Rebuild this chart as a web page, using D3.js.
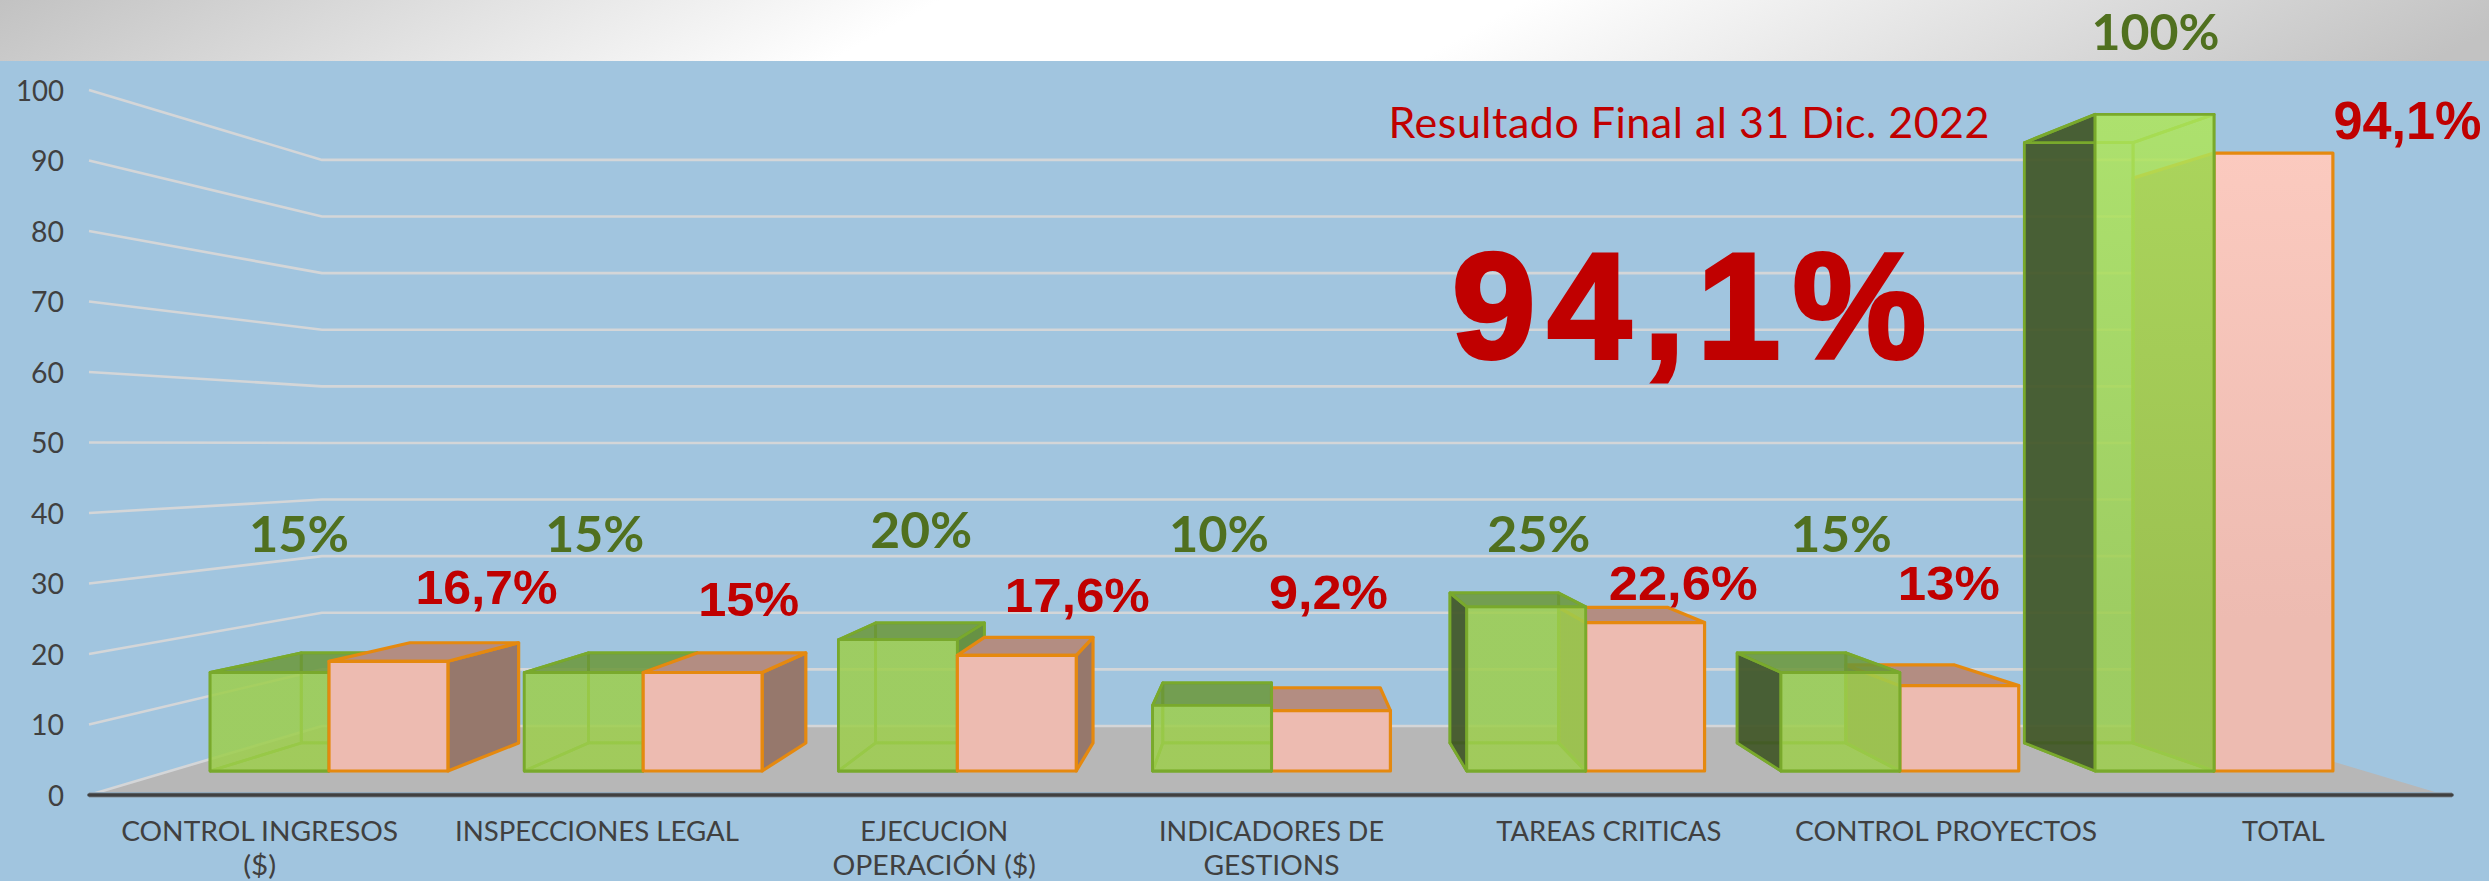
<!DOCTYPE html>
<html><head><meta charset="utf-8">
<script src="https://cdn.jsdelivr.net/npm/d3@7/dist/d3.min.js"></script>
<style>html,body{margin:0;padding:0;background:#A1C5DF}svg{display:block}</style>
</head><body><div id="chart"></div>
<script>
// ---- data ----
const categories = ["CONTROL INGRESOS ($)","INSPECCIONES LEGAL","EJECUCION OPERACIÓN ($)","INDICADORES DE GESTIONS","TAREAS CRITICAS","CONTROL PROYECTOS","TOTAL"];
const categoryLines = [["CONTROL INGRESOS","($)"],["INSPECCIONES LEGAL"],["EJECUCION","OPERACIÓN ($)"],["INDICADORES DE","GESTIONS"],["TAREAS CRITICAS"],["CONTROL PROYECTOS"],["TOTAL"]];
const seriesNames = ["Peso","Resultado"];
const pesoValues = [15,15,20,10,25,15,100];
const resultadoValues = [16.7,15,17.6,9.2,22.6,13,94.1];
const pesoLabels = ["15%","15%","20%","10%","25%","15%","100%"];
const resultadoLabels = ["16,7%","15%","17,6%","9,2%","22,6%","13%","94,1%"];
const titleText = "Resultado Final al 31 Dic. 2022";
const bigText = "94,1%";

// ---- layout (separate from the data) ----
const W = 2489, H = 881;
const vpX = 1271.5;
const pesoLabelDx = [-30,-48.5,-36,-52.5,-47,-58.5,-58.5];
const pesoLabelRise = [243,243,247,243,243,243,745];
const pesoLabelW = [100,99,102,100,103.5,101,128];
const resLabelDx = [157.5,105.5,120,57,97.5,49,193.5];
const resLabelRise = [191,179,183,186,195,195,656];
const resLabelW = [142,101,145,119,149,102,148];
const resLabelSize = [49,49,49,49,49,49,54];
const catLineW = [[277,33],[284],[148,203.5],[225,136],[225],[302],[82.5]];
const C = {green:"#9DCE4C", greenStroke:"#79A92C", greenTop:"#6B9738", greenRight:"#5F8B2F", greenDark:"#405626",
           pinkTop:"#B38D82", pinkSide:"#96786C", pinkStroke:"#E5890F", red:"#C00000", labelGreen:"#50701F", text:"#404040"};

// ---- scales: a perspective box built from d3 scales ----
const xBand = d3.scaleBand().domain(categories).range([91,2452]).paddingInner(.243).paddingOuter(.1215);
const xSeries = d3.scaleBand().domain(seriesNames).range([0,xBand.bandwidth()]);
const yFront = d3.scaleLinear().domain([0,100]).range([795,90]);
const shrink = d3.scaleLinear().domain([0,1]).range([1,.803]);
const base = d3.scaleLinear().domain([0,1]).range([795,726]);
const barFront = .348, barBack = .754;
const project = (x,v,t)=>[vpX+(x-vpX)*shrink(t), base(t)-(795-yFront(v))*shrink(t)];
const line = d3.line();
const quad = pts => line(pts)+"Z";

const svg = d3.select("#chart").append("svg").attr("width",W).attr("height",H).attr("viewBox",[0,0,W,H]);
const defs = svg.append("defs");
const band = defs.append("linearGradient").attr("id","band").attr("gradientUnits","userSpaceOnUse")
  .attr("x1",0).attr("y1",0).attr("x2",600).attr("y2",1080);
[[0,"#C2C2C2"],[.37,"#FFFFFF"],[.6,"#FFFFFF"],[1,"#C2C2C2"]].forEach(s=>band.append("stop").attr("offset",s[0]).attr("stop-color",s[1]));
const gg = defs.append("linearGradient").attr("id","gFront").attr("gradientUnits","userSpaceOnUse").attr("x1",0).attr("y1",110).attr("x2",0).attr("y2",620);
[[0,"#AFE65A"],[1,"#9DCE4C"]].forEach(s=>gg.append("stop").attr("offset",s[0]).attr("stop-color",s[1]));
const pg = defs.append("linearGradient").attr("id","pFront").attr("gradientUnits","userSpaceOnUse").attr("x1",0).attr("y1",150).attr("x2",0).attr("y2",620);
[[0,"#FBCABF"],[1,"#EDBBB1"]].forEach(s=>pg.append("stop").attr("offset",s[0]).attr("stop-color",s[1]));

svg.append("rect").attr("width",W).attr("height",H).attr("fill","#A1C5DF");
svg.append("rect").attr("width",W).attr("height",61).attr("fill","url(#band)");

// floor
const floorEnd = 2445;
svg.append("path").attr("fill","#B7B7B7")
  .attr("d",quad([project(89,0,0),project(floorEnd,0,0),project(floorEnd,0,1),project(89,0,1)]));

// gridlines (side wall + back wall)
const gridL = 89, gridR = 2452;
svg.append("g").selectAll("path").data(yFront.ticks(10)).join("path")
  .attr("d",v=>line([project(gridL,v,0),project(gridL,v,1),project(gridR,v,1)]))
  .attr("fill","none").attr("stroke","#D4D6D8").attr("stroke-width",2.6);

// front axis line
svg.append("path").attr("d",line([[89,795],[2452,795]])).attr("stroke","#93A9BA").attr("stroke-width",6).attr("fill","none");
svg.append("path").attr("d",line([[89,795],[2452,795]])).attr("stroke","#404040").attr("stroke-width",3.5).attr("stroke-linecap","round").attr("fill","none");

// y axis
const yAxis = svg.append("g").attr("transform","translate(64,0)").call(d3.axisLeft(yFront).ticks(10).tickSize(0).tickPadding(0));
yAxis.select(".domain").remove();
yAxis.selectAll("text").attr("font-family","Lato").attr("font-size",29).attr("fill",C.text).attr("dy",".36em")
  .attr("textLength",d=>d===100?48:d===0?16:33).attr("lengthAdjust","spacingAndGlyphs");

// x axis
const xAxis = svg.append("g").attr("transform","translate(0,795)").call(d3.axisBottom(xBand).tickSize(0).tickPadding(0));
xAxis.select(".domain").remove();
xAxis.selectAll("text").each(function(d,i){
  const t = d3.select(this).text(null).attr("y",46).attr("dy",0).attr("font-family","Lato").attr("font-size",27).attr("fill",C.text);
  categoryLines[i].forEach((ln,j)=>{
    t.append("tspan").attr("x",0).attr("y",46+j*34).attr("textLength",catLineW[i][j]).attr("lengthAdjust","spacingAndGlyphs").text(ln);
  });
});

// bars
const barsG = svg.append("g");
function drawGreen(g,x0,x1,v){
  const fl=[x0,0,barFront],fr=[x1,0,barFront],tl=[x0,v,barFront],tr=[x1,v,barFront];
  const bl=[x0,0,barBack],br=[x1,0,barBack],ul=[x0,v,barBack],ur=[x1,v,barBack];
  const P=a=>project(a[0],a[1],a[2]);
  const edge={stroke:C.greenStroke,"stroke-width":2.8,"stroke-linejoin":"round"};
  const face=(pts,fill,op)=>{const p=g.append("path").attr("d",quad(pts.map(P))).attr("fill",fill||"none").attr("fill-opacity",op||0);
    Object.entries(edge).forEach(([k,val])=>p.attr(k,val));return p;};
  face([bl,br,ur,ul]);
  face([fl,bl,br,fr]);
  const leftExposed = x0>vpX, rightExposed = x1<vpX;
  face([fl,bl,ul,tl], leftExposed?C.greenDark:null, leftExposed?.92:0);
  face([fr,br,ur,tr], rightExposed?C.greenRight:null, rightExposed?.88:0);
  const topVisible = P(ul)[1] < P(tl)[1];
  face([tl,ul,ur,tr], topVisible?C.greenTop:null, topVisible?.85:0);
  face([fl,fr,tr,tl],"url(#gFront)",.85);
}
function drawPink(g,x0,x1,v){
  const P=a=>project(a[0],a[1],a[2]);
  const fl=[x0,0,barFront],fr=[x1,0,barFront],tl=[x0,v,barFront],tr=[x1,v,barFront];
  const bl=[x0,0,barBack],br=[x1,0,barBack],ul=[x0,v,barBack],ur=[x1,v,barBack];
  const face=(pts,fill)=>g.append("path").attr("d",quad(pts.map(P))).attr("fill",fill).attr("stroke",C.pinkStroke).attr("stroke-width",3.2).attr("stroke-linejoin","round");
  if(x0>vpX) face([fl,bl,ul,tl],C.pinkSide);
  if(x1<vpX) face([fr,br,ur,tr],C.pinkSide);
  if(P(ul)[1] < P(tl)[1]) face([tl,ul,ur,tr],C.pinkTop);
  face([fl,fr,tr,tl],"url(#pFront)");
}
categories.forEach((c,i)=>{
  const g = barsG.append("g");
  const x = xBand(c);
  const gx0=x+xSeries("Peso"), gx1=gx0+xSeries.bandwidth();
  const px0=x+xSeries("Resultado"), px1=px0+xSeries.bandwidth();
  const center = x+xBand.bandwidth()/2;
  if(center<vpX-1){ drawGreen(g,gx0,gx1,pesoValues[i]); drawPink(g,px0,px1,resultadoValues[i]); }
  else { drawPink(g,px0,px1,resultadoValues[i]); drawGreen(g,gx0,gx1,pesoValues[i]); }
});

// data labels
const groupCenter = c => project(xBand(c)+xBand.bandwidth()/2,0,barFront)[0];
svg.append("g").selectAll("text").data(categories).join("text")
  .attr("x",(c,i)=>groupCenter(c)+pesoLabelDx[i]).attr("y",(c,i)=>795-pesoLabelRise[i])
  .attr("text-anchor","middle").attr("font-family","Lato").attr("font-weight",700).attr("font-size",50).attr("fill",C.labelGreen)
  .attr("textLength",(c,i)=>pesoLabelW[i]).attr("lengthAdjust","spacingAndGlyphs").text((c,i)=>pesoLabels[i]);
svg.append("g").selectAll("text").data(categories).join("text")
  .attr("x",(c,i)=>groupCenter(c)+resLabelDx[i]).attr("y",(c,i)=>795-resLabelRise[i])
  .attr("text-anchor","middle").attr("font-family","Liberation Sans").attr("font-weight",700).attr("font-size",(c,i)=>resLabelSize[i]).attr("fill",C.red)
  .attr("textLength",(c,i)=>resLabelW[i]).attr("lengthAdjust","spacingAndGlyphs").text((c,i)=>resultadoLabels[i]);

// annotations
svg.append("text").attr("x",1388.5).attr("y",138).attr("font-family","Lato").attr("font-size",43).attr("fill",C.red)
  .attr("textLength",601).attr("lengthAdjust","spacing").text(titleText);
svg.append("text").attr("x",1452).attr("y",358).attr("font-family","Liberation Sans").attr("font-weight",700).attr("font-size",150)
  .attr("fill",C.red).attr("stroke",C.red).attr("stroke-width",4)
  .attr("textLength",474).attr("lengthAdjust","spacing").text(bigText);
</script></body></html>
